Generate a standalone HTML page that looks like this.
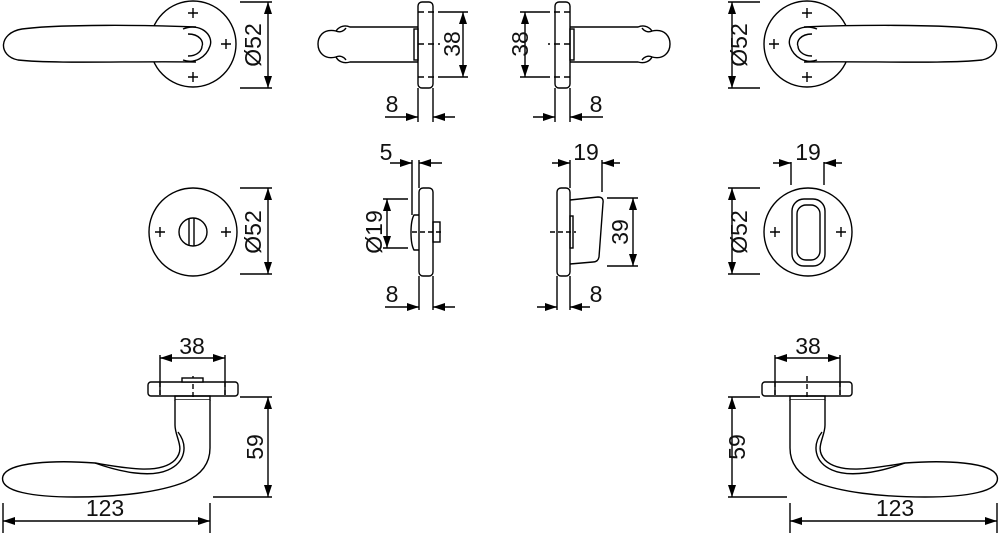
<!DOCTYPE html>
<html><head><meta charset="utf-8"><style>
html,body{margin:0;padding:0;background:#fff;}
svg{display:block;}
text{font-family:"Liberation Sans",sans-serif;font-size:23px;fill:#111;}
</style></head><body>
<svg width="1000" height="533" viewBox="0 0 1000 533" xmlns="http://www.w3.org/2000/svg">
<defs>
<marker id="a" viewBox="0 0 12 8" refX="12" refY="4" markerWidth="13" markerHeight="8" markerUnits="userSpaceOnUse" orient="auto"><path d="M0,0 L12,4 L0,8 Z" fill="#000"/></marker>
<g id="lever">
 <circle cx="193" cy="44" r="43"/>
 <path d="M193,8v10M188,13h10M160,39v10M155,44h10M226,39v10M221,44h10M193,72v10M188,77h10"/>
 <path d="M196,27 C150,25 60,24 22,29 C-2,33 -2,56 18,60 C55,64 130,61 196,62" fill="#fff"/>
 <path d="M183,29 C200,22 214,35 210,46 C206,58 194,64 183,60"/>
 <path d="M188,34 C200,34 204,42 202,46 M188,56 C198,56 202,50 202,46"/>
</g>
<g id="side">
 <rect x="418" y="2" width="15" height="86" rx="4"/>
 <path d="M418,27 H350 C343,24 338,28 336,31 C322,28 318,38 318,44 C318,52 324,60 336,57 C338,61 343,64 350,62 H418"/>
 <path d="M336,31 C340,33 344,31 346,28 M336,57 C340,55 344,57 346,60"/>
 <rect x="414" y="29" width="4" height="31"/>
 <path d="M418,12H440M418,44H440M418,77H440" stroke-dasharray="6,4"/>
 <path d="M440,12H468M440,77H468M418,88V122M433,88V122"/>
 <path d="M463,44V12" marker-end="url(#a)"/><path d="M463,44V77" marker-end="url(#a)"/>
 <path d="M385,117H418" marker-end="url(#a)"/><path d="M455,117H433" marker-end="url(#a)"/>
</g>
<g id="low">
 <rect x="148" y="382" width="90" height="14" rx="3"/>
 <path d="M160,382v14M225,382v14M193,376v24" stroke-dasharray="5,3"/>
 <rect x="175" y="396" width="35" height="4"/>
 <path d="M175,400 V425 C175,438 186,448 175,460 C160,475 125,468 95,463 C55,460 8,462 3,476 C-2,492 35,497 75,497 C120,497 160,492 185,482 C205,473 210,460 210,448 V400" fill="#fff"/>
 <path d="M95,463 C120,472 150,478 168,470 C186,462 188,445 178,432"/>
 <path d="M160,395V355M225,395V355"/>
 <path d="M192,358H160" marker-end="url(#a)"/><path d="M192,358H225" marker-end="url(#a)"/>
 <path d="M240,397H272M213,497H272"/>
 <path d="M268,447V397" marker-end="url(#a)"/><path d="M268,447V497" marker-end="url(#a)"/>
 <path d="M3,503V533M210,503V533"/>
 <path d="M105,521H3" marker-end="url(#a)"/><path d="M105,521H210" marker-end="url(#a)"/>
</g>
<g id="d52">
 <path d="M240,2H272M240,88H272"/>
 <path d="M268,45V2" marker-end="url(#a)"/><path d="M268,45V88" marker-end="url(#a)"/>
</g>
</defs>
<g fill="none" stroke="#000" stroke-width="1.4">
 <use href="#lever"/>
 <use href="#lever" transform="translate(1000,0) scale(-1,1)"/>
 <use href="#d52"/>
 <use href="#d52" transform="translate(1000,0) scale(-1,1)"/>
 <use href="#side"/>
 <use href="#side" transform="translate(988,0) scale(-1,1)"/>
 <use href="#low"/>
 <rect x="182" y="378" width="21" height="4" fill="#fff"/>
 <use href="#low" transform="translate(1000,0) scale(-1,1)"/>

 <circle cx="193" cy="232" r="44"/>
 <circle cx="193" cy="232" r="14"/>
 <path d="M189,218V246M194,218V246"/>
 <path d="M160,227v10M155,232h10M226,227v10M221,232h10"/>
 <use href="#d52" transform="translate(0,186)"/>
 <circle cx="808" cy="232" r="44"/>
 <rect x="792" y="199" width="33" height="67" rx="12"/>
 <rect x="797" y="205" width="23" height="55" rx="9"/>
 <path d="M775,227v10M770,232h10M841,227v10M836,232h10"/>
 <use href="#d52" transform="translate(1000,186) scale(-1,1)"/>
 <path d="M791,185V162M824,185V162"/>
 <path d="M773,163H791" marker-end="url(#a)"/><path d="M842,163H824" marker-end="url(#a)"/>

 <rect x="419" y="188" width="14" height="88" rx="4"/>
 <path d="M419,215 H414 C410,222 410,243 414,250 H419"/>
 <rect x="433" y="222" width="7" height="20"/>
 <path d="M412,232H444" stroke-dasharray="5,3"/>
 <path d="M412,160V215M419,160V188M419,276V310M433,276V310"/>
 <path d="M390,163H412" marker-end="url(#a)"/><path d="M442,163H419" marker-end="url(#a)"/>
 <path d="M383,199H408M383,248H408"/>
 <path d="M387,224V199" marker-end="url(#a)"/><path d="M387,224V248" marker-end="url(#a)"/>
 <path d="M385,307H419" marker-end="url(#a)"/><path d="M455,307H433" marker-end="url(#a)"/>

 <rect x="557" y="188" width="13" height="88" rx="4"/>
 <path d="M570,200 L598,197 Q604,197 603,203 L599,257 Q598,262 593,262 L570,264"/>
 <rect x="570" y="216" width="3" height="32"/>
 <path d="M550,232H576" stroke-dasharray="5,3"/>
 <path d="M570,160V188M602,160V192M607,198H638M607,266H638M557,276V310M570,276V310"/>
 <path d="M552,163H570" marker-end="url(#a)"/><path d="M620,163H602" marker-end="url(#a)"/>
 <path d="M633,232V198" marker-end="url(#a)"/><path d="M633,232V266" marker-end="url(#a)"/>
 <path d="M537,307H557" marker-end="url(#a)"/><path d="M590,307H570" marker-end="url(#a)"/>
</g>
<g>
 <text transform="translate(261,45) rotate(-90)" text-anchor="middle">Ø52</text>
 <text transform="translate(747,45) rotate(-90)" text-anchor="middle">Ø52</text>
 <text transform="translate(261,232) rotate(-90)" text-anchor="middle">Ø52</text>
 <text transform="translate(747,232) rotate(-90)" text-anchor="middle">Ø52</text>
 <text transform="translate(460,44) rotate(-90)" text-anchor="middle">38</text>
 <text transform="translate(528,44) rotate(-90)" text-anchor="middle">38</text>
 <text x="392" y="112" text-anchor="middle">8</text>
 <text x="596" y="112" text-anchor="middle">8</text>
 <text x="392" y="302" text-anchor="middle">8</text>
 <text x="596" y="302" text-anchor="middle">8</text>
 <text x="386" y="160" text-anchor="middle">5</text>
 <text transform="translate(382,232) rotate(-90)" text-anchor="middle">Ø19</text>
 <text x="586" y="160" text-anchor="middle">19</text>
 <text x="808" y="160" text-anchor="middle">19</text>
 <text transform="translate(628,232) rotate(-90)" text-anchor="middle">39</text>
 <text x="192" y="354" text-anchor="middle">38</text>
 <text x="808" y="354" text-anchor="middle">38</text>
 <text transform="translate(263,447) rotate(-90)" text-anchor="middle">59</text>
 <text transform="translate(745,447) rotate(-90)" text-anchor="middle">59</text>
 <text x="105" y="516" text-anchor="middle">123</text>
 <text x="895" y="516" text-anchor="middle">123</text>
</g>
</svg>
</body></html>
